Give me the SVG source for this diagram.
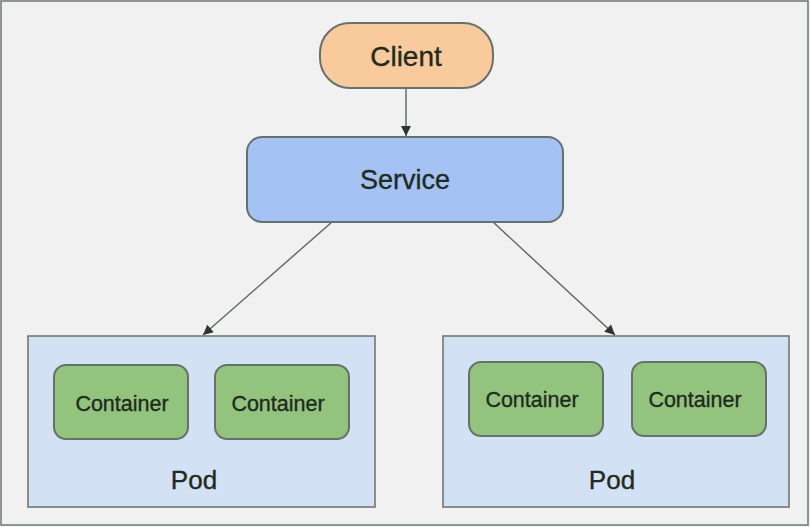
<svg xmlns="http://www.w3.org/2000/svg" width="810" height="527" viewBox="0 0 810 527">
<defs>
<style>
.n{stroke:#66716a;stroke-width:2}
.t{font-family:"Liberation Sans",Arial,sans-serif;fill:#1f2a20;stroke:#1f2a20;stroke-width:0.35;text-anchor:middle}
.c{fill:#93c47d}
.pod{fill:#d2e1f3;stroke:#6e7a70;stroke-width:1.6}
.e{stroke:#5b665c;stroke-width:1.4;fill:none;marker-end:url(#ah)}
</style>
<marker id="ah" viewBox="0 0 10 10" refX="10" refY="5" markerWidth="11" markerHeight="10" markerUnits="userSpaceOnUse" orient="auto">
<path d="M0,0 L10,5 L0,10 z" fill="#2e3630"/>
</marker>
</defs>
<rect x="0" y="0" width="810" height="527" fill="#f1f1f1"/>
<rect x="1" y="1" width="807" height="524" fill="none" stroke="#6b776d" stroke-width="1.5"/>
<g id="connectors">
<line class="e" x1="406" y1="88" x2="406" y2="136"/>
<line class="e" x1="332" y1="222" x2="203" y2="335"/>
<line class="e" x1="493" y1="222" x2="615" y2="335"/>
</g>
<g id="client">
<rect class="n" x="320" y="23" width="173" height="65" rx="30" fill="#f9cb9c"/>
<text class="t" x="406" y="66" font-size="28">Client</text>
</g>
<g id="service">
<rect class="n" x="247" y="137" width="316" height="85" rx="15" fill="#a4c2f4"/>
<text class="t" x="405" y="189" font-size="27">Service</text>
</g>
<g id="pod-left">
<rect class="pod" x="28" y="336" width="347" height="171"/>
<text class="t" x="194" y="489" font-size="26">Pod</text>
</g>
<g id="container-1">
<rect class="n c" x="54" y="365" width="134" height="74" rx="12"/>
<text class="t" x="122" y="411" font-size="21.5">Container</text>
</g>
<g id="container-2">
<rect class="n c" x="215" y="365" width="134" height="74" rx="12"/>
<text class="t" x="278" y="411" font-size="21.5">Container</text>
</g>
<g id="pod-right">
<rect class="pod" x="443" y="336" width="346" height="171"/>
<text class="t" x="612" y="489" font-size="26">Pod</text>
</g>
<g id="container-3">
<rect class="n c" x="469" y="362" width="134" height="74" rx="12"/>
<text class="t" x="532" y="407" font-size="21.5">Container</text>
</g>
<g id="container-4">
<rect class="n c" x="632" y="362" width="134" height="74" rx="12"/>
<text class="t" x="695" y="407" font-size="21.5">Container</text>
</g>
</svg>
